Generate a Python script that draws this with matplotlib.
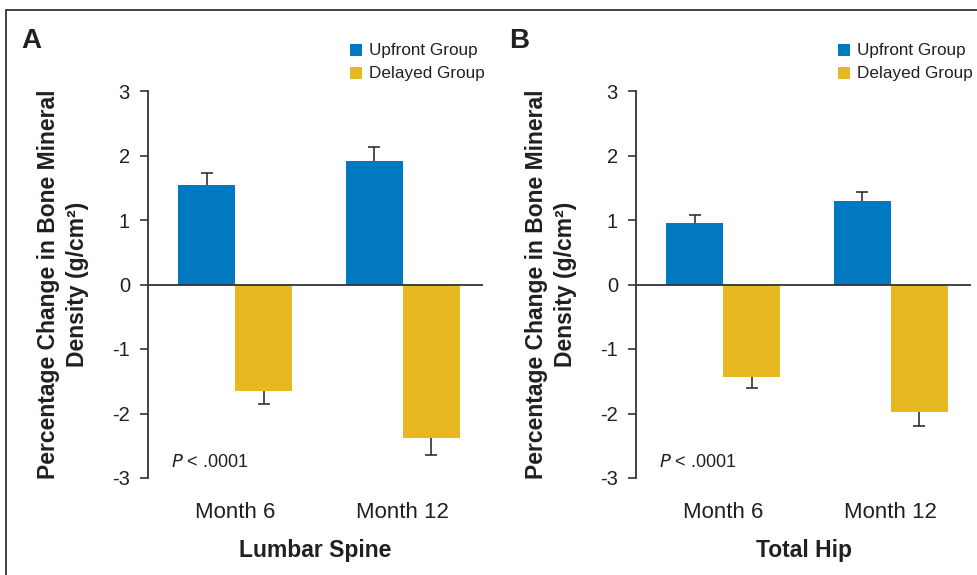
import numpy as np
import matplotlib
matplotlib.use('Agg')
import matplotlib.pyplot as plt
from matplotlib.patches import Rectangle

# --- data ---
months = ['Month 6', 'Month 12']
groups = ['Upfront Group', 'Delayed Group']

lumbar_upfront = [1.55, 1.91]
lumbar_upfront_err = [0.18, 0.22]
lumbar_delayed = [-1.65, -2.38]
lumbar_delayed_err = [0.21, 0.27]

hip_upfront = [0.95, 1.29]
hip_upfront_err = [0.13, 0.15]
hip_delayed = [-1.44, -1.98]
hip_delayed_err = [0.16, 0.21]

panels = [
    ('A', 'Lumbar Spine', lumbar_upfront, lumbar_upfront_err, lumbar_delayed, lumbar_delayed_err),
    ('B', 'Total Hip', hip_upfront, hip_upfront_err, hip_delayed, hip_delayed_err),
]

# --- style ---
blue = '#0079C1'
yellow = '#E6B822'
ink = '#231F20'
plt.rcParams['font.family'] = ['Liberation Sans', 'DejaVu Sans']
plt.rcParams['axes.unicode_minus'] = False

W, H = 978, 575
fig = plt.figure(figsize=(W / 100, H / 100), dpi=100)
fig.patch.set_facecolor('white')

# outer frame (runs past the right and bottom edges)
fig.add_artist(Rectangle((6 / W, -0.1), 2, 1 - 10 / H + 0.1, transform=fig.transFigure,
                         fill=False, lw=1.3, ec='#333333'))

axes_px = [(148, 483), (636, 971)]
offsets = [0, 488]
bw = 0.34

for (letter, title, up, up_err, dl, dl_err), (x0, x1), off in zip(panels, axes_px, offsets):
    ax = fig.add_axes([x0 / W, (H - 478) / H, (x1 - x0) / W, (478 - 91) / H])
    x = np.arange(len(months))
    up = np.array(up)
    dl = np.array(dl)
    ax.bar(x - bw / 2, up, bw, color=blue, zorder=2)
    ax.bar(x + bw / 2, dl, bw, color=yellow, zorder=2)

    # one-sided error bars
    ax.vlines(x - bw / 2, up, up + np.array(up_err), color=ink, lw=1.1, zorder=3)
    ax.plot(x - bw / 2, up + np.array(up_err), ls='none', marker='_',
            ms=8, mew=1.1, color=ink, zorder=3)
    ax.vlines(x + bw / 2, dl, dl - np.array(dl_err), color=ink, lw=1.1, zorder=3)
    ax.plot(x + bw / 2, dl - np.array(dl_err), ls='none', marker='_',
            ms=8, mew=1.1, color=ink, zorder=3)

    ax.axhline(0, color='#333333', lw=1.3, zorder=4)
    ax.set_ylim(-3, 3)
    ax.set_xlim(-0.52, 1.48)
    ax.set_yticks([-3, -2, -1, 0, 1, 2, 3])
    ax.set_xticks(x)
    ax.set_xticklabels(months, fontsize=16, color=ink)
    ax.tick_params(axis='x', length=0, pad=17)
    ax.tick_params(axis='y', length=6, width=1.2, colors='#333333', labelcolor=ink,
                   labelsize=14.5, pad=7)
    for s in ['top', 'right', 'bottom']:
        ax.spines[s].set_visible(False)
    ax.spines['left'].set_linewidth(1.3)
    ax.spines['left'].set_color('#333333')
    ax.patch.set_alpha(0)

    ax.text(0.068, 0.04, r'$\it{P}$' + ' < .0001', transform=ax.transAxes,
            fontsize=13, color=ink, va='center')

    ax.set_xlabel(title, fontsize=16.5, fontweight='bold', color=ink, labelpad=12)

    # panel letter
    fig.text((21 + off) / W, 1 - 48 / H, letter, fontsize=20, fontweight='bold', color=ink)

    # y label
    fig.text((63 + off) / W, 1 - 284 / H,
             'Percentage Change in Bone Mineral\nDensity (g/cm²)',
             rotation=90, ha='center', va='center', multialignment='center',
             fontsize=16.5, fontweight='bold', color=ink, linespacing=1.3)

    # legend
    for i, (g, c) in enumerate(zip(groups, [blue, yellow])):
        sy = 44 + i * 23
        fig.add_artist(Rectangle(((350 + off) / W, 1 - (sy + 12) / H), 12 / W, 12 / H,
                                 transform=fig.transFigure, color=c, lw=0))
        fig.text((369 + off) / W, 1 - (sy + 6.5) / H, g, fontsize=12.3, color=ink, va='center')

fig.savefig('out.png', dpi=100)
